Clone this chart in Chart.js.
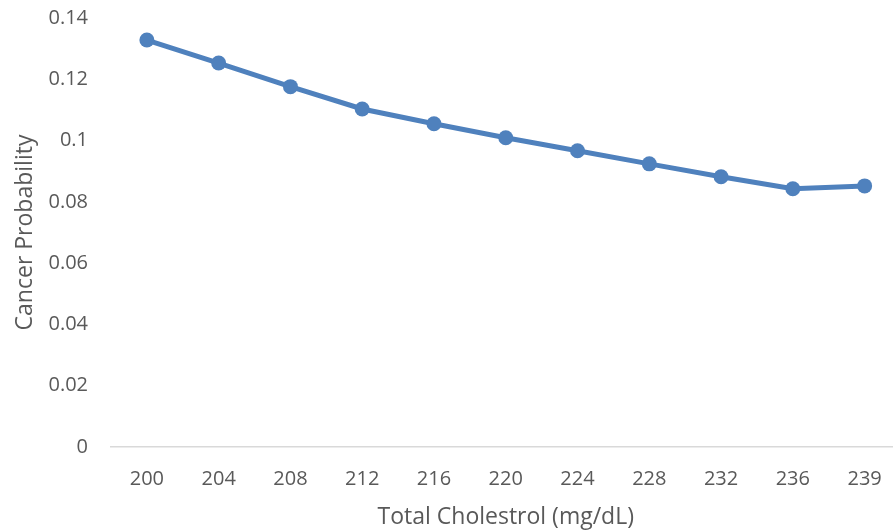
<!DOCTYPE html>
<html lang="en">
<head>
  <meta charset="utf-8">
  <title>Cancer Probability vs Total Cholestrol</title>
  <script src="https://cdn.jsdelivr.net/npm/chart.js@4.4.0/dist/chart.umd.min.js"></script>
  <style>
    html, body { margin: 0; padding: 0; background: #ffffff; overflow: hidden; }
    #wrap { width: 893px; height: 531px; overflow: hidden; }
  </style>
</head>
<body>
<div id="wrap"><canvas id="chol-chart" width="908" height="531"></canvas></div>

<script>
// data
const cholesterol = ['200', '204', '208', '212', '216', '220', '224', '228', '232', '236', '239'];
const probability = [0.1328, 0.1253, 0.1176, 0.1103, 0.1055, 0.1009, 0.0967, 0.0924, 0.0882, 0.0843, 0.0852];
const yTicks = [0, 0.02, 0.04, 0.06, 0.08, 0.1, 0.12, 0.14];
const yTickLabels = ['0', '0.02', '0.04', '0.06', '0.08', '0.1', '0.12', '0.14'];

const textColor = '#595959';
const fontFamily = "'Open Sans', 'Noto Sans', sans-serif";

new Chart(document.getElementById('chol-chart'), {
  type: 'line',
  data: {
    labels: cholesterol,
    datasets: [{
      label: 'Cancer Probability',
      data: probability,
      borderColor: '#4f81bd',
      backgroundColor: '#4f81bd',
      borderWidth: 5,
      pointRadius: 7.5,
      pointBorderWidth: 0,
      tension: 0
    }]
  },
  options: {
    responsive: false,
    animation: false,
    layout: { padding: 0 },
    plugins: {
      legend: { display: false },
      tooltip: { enabled: false }
    },
    scales: {
      x: {
        offset: true,
        grid: { display: false, drawTicks: false },
        border: { display: true, color: '#d9d9d9', width: 1.5 },
        ticks: {
          color: textColor,
          font: { family: fontFamily, size: 20 },
          padding: 20,
          maxRotation: 0
        },
        title: {
          display: true,
          text: 'Total Cholestrol (mg/dL)',
          color: textColor,
          font: { family: fontFamily, size: 23 },
          padding: { top: 4, bottom: 0 }
        },
        afterFit: function (axis) { axis.height = 84; }
      },
      y: {
        min: 0,
        max: 0.14,
        grid: { display: false, drawTicks: false },
        border: { display: false },
        afterBuildTicks: function (axis) {
          axis.ticks = yTicks.map(function (v) { return { value: v }; });
        },
        ticks: {
          color: textColor,
          font: { family: fontFamily, size: 20 },
          padding: 23,
          callback: function (value) {
            const i = yTicks.findIndex(function (t) { return Math.abs(t - value) < 1e-9; });
            return i >= 0 ? yTickLabels[i] : '';
          }
        },
        title: {
          display: true,
          text: 'Cancer Probability',
          color: textColor,
          font: { family: fontFamily, size: 23 },
          padding: { top: 12, bottom: 4 }
        },
        afterFit: function (axis) {
          axis.width = 111;
          axis.paddingTop = 18;
          axis.paddingBottom = 12;
        }
      }
    }
  }
});
</script>
</body>
</html>
